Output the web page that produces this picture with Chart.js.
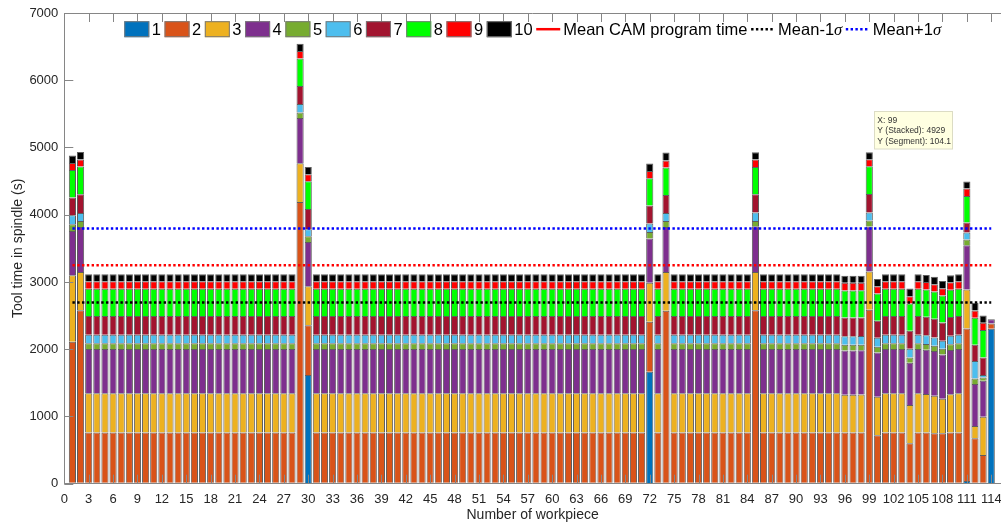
<!DOCTYPE html>
<html>
<head>
<meta charset="utf-8">
<script src="https://cdn.jsdelivr.net/npm/chart.js@4.4.0/dist/chart.umd.min.js"></script>
<style>
    html, body { margin: 0; padding: 0; background: #fff; }
    canvas { display: block; }
</style>
</head>
<body>
<canvas id="graficoFerramentas" width="1001" height="527"></canvas>
<script>

/*
* Dados: numero da peca e tempo (s) de cada ferramenta 1..10 por peca
*/
const workpiece = [
    1, 2, 3, 4, 5, 6, 7, 8, 9, 10,
    11, 12, 13, 14, 15, 16, 17, 18, 19, 20,
    21, 22, 23, 24, 25, 26, 27, 28, 29, 30,
    31, 32, 33, 34, 35, 36, 37, 38, 39, 40,
    41, 42, 43, 44, 45, 46, 47, 48, 49, 50,
    51, 52, 53, 54, 55, 56, 57, 58, 59, 60,
    61, 62, 63, 64, 65, 66, 67, 68, 69, 70,
    71, 72, 73, 74, 75, 76, 77, 78, 79, 80,
    81, 82, 83, 84, 85, 86, 87, 88, 89, 90,
    91, 92, 93, 94, 95, 96, 97, 98, 99, 100,
    101, 102, 103, 104, 105, 106, 107, 108, 109, 110,
    111, 112, 113, 114
]

const tool1 = [
    15, 15, 15, 15, 15, 15, 15, 15, 15, 15,
    15, 15, 15, 15, 15, 15, 15, 15, 15, 15,
    15, 15, 15, 15, 15, 15, 15, 15, 15, 1615,
    15, 15, 15, 15, 15, 15, 15, 15, 15, 15,
    15, 15, 15, 15, 15, 15, 15, 15, 15, 15,
    15, 15, 15, 15, 15, 15, 15, 15, 15, 15,
    15, 15, 15, 15, 15, 15, 15, 15, 15, 15,
    15, 1664, 15, 15, 15, 15, 15, 15, 15, 15,
    15, 15, 15, 15, 15, 15, 15, 15, 15, 15,
    15, 15, 15, 15, 15, 15, 15, 15, 15, 15,
    15, 15, 15, 15, 15, 15, 15, 15, 15, 15,
    40, 15, 15, 2303
]
const tool2 = [
    2095, 2566, 745, 745, 745, 745, 745, 745, 745, 745,
    745, 745, 745, 745, 745, 745, 745, 745, 745, 745,
    745, 745, 745, 745, 745, 745, 745, 745, 4175, 743,
    745, 745, 745, 745, 745, 745, 745, 745, 745, 745,
    745, 745, 745, 745, 745, 745, 745, 745, 745, 745,
    745, 745, 745, 745, 745, 745, 745, 745, 745, 745,
    745, 745, 745, 745, 745, 745, 745, 745, 745, 745,
    745, 743, 745, 2556, 745, 745, 745, 745, 745, 745,
    745, 745, 745, 745, 2566, 745, 745, 745, 745, 745,
    745, 745, 745, 745, 745, 745, 745, 745, 2570.9, 704,
    745, 745, 745, 585, 745, 745, 734, 734, 745, 745,
    2269, 660, 411, 80
]
const tool3 = [
    991, 569, 585, 585, 585, 585, 585, 585, 585, 585,
    585, 585, 585, 585, 585, 585, 585, 585, 585, 585,
    585, 585, 585, 585, 585, 585, 585, 585, 575, 580,
    585, 585, 585, 585, 585, 585, 585, 585, 585, 585,
    585, 585, 585, 585, 585, 585, 585, 585, 585, 585,
    585, 585, 585, 585, 585, 585, 585, 585, 585, 585,
    585, 585, 585, 585, 585, 585, 585, 585, 585, 585,
    585, 580, 585, 579, 585, 585, 585, 585, 585, 585,
    585, 585, 585, 585, 569, 585, 585, 585, 585, 585,
    585, 585, 585, 585, 585, 562, 562, 565, 569, 574,
    585, 585, 585, 569, 585, 575, 559, 514, 570, 585,
    580, 182, 570, 0
]
const tool4 = [
    658, 669, 658, 658, 658, 658, 658, 658, 658, 658,
    658, 658, 658, 658, 658, 658, 658, 658, 658, 658,
    658, 658, 658, 658, 658, 658, 658, 658, 673, 658,
    658, 658, 658, 658, 658, 658, 658, 658, 658, 658,
    658, 658, 658, 658, 658, 658, 658, 658, 658, 658,
    658, 658, 658, 658, 658, 658, 658, 658, 658, 658,
    658, 658, 658, 658, 658, 658, 658, 658, 658, 658,
    658, 659, 658, 669, 658, 658, 658, 658, 658, 658,
    658, 658, 658, 658, 679, 658, 658, 658, 658, 658,
    658, 658, 658, 658, 658, 658, 658, 658, 669, 659,
    658, 658, 658, 629, 658, 658, 664, 660, 658, 658,
    658, 624, 534, 64
]
const tool5 = [
    100, 89, 85, 85, 85, 85, 85, 85, 85, 85,
    85, 85, 85, 85, 85, 85, 85, 85, 85, 85,
    85, 85, 85, 85, 85, 85, 85, 85, 81, 85,
    85, 85, 85, 85, 85, 85, 85, 85, 85, 85,
    85, 85, 85, 85, 85, 85, 85, 85, 85, 85,
    85, 85, 85, 85, 85, 85, 85, 85, 85, 85,
    85, 85, 85, 85, 85, 85, 85, 85, 85, 85,
    85, 98, 85, 89, 85, 85, 85, 85, 85, 85,
    85, 85, 85, 85, 79, 85, 85, 85, 85, 85,
    85, 85, 85, 85, 85, 85, 85, 85, 89, 84,
    85, 85, 85, 80, 85, 85, 79, 83, 85, 85,
    85, 85, 51, 0
]
const tool6 = [
    134, 119, 128, 128, 128, 128, 128, 128, 128, 128,
    128, 128, 128, 128, 128, 128, 128, 128, 128, 128,
    128, 128, 128, 128, 128, 128, 128, 128, 127, 104,
    128, 128, 128, 128, 128, 128, 128, 128, 128, 128,
    128, 128, 128, 128, 128, 128, 128, 128, 128, 128,
    128, 128, 128, 128, 128, 128, 128, 128, 128, 128,
    128, 128, 128, 128, 128, 128, 128, 128, 128, 128,
    128, 125, 128, 119, 128, 128, 128, 128, 128, 128,
    128, 128, 128, 128, 125, 128, 128, 128, 128, 128,
    128, 128, 128, 128, 128, 128, 128, 128, 119, 133,
    128, 128, 128, 128, 128, 128, 124, 119, 128, 128,
    104, 257, 34, 0
]
const tool7 = [
    263, 278, 277, 277, 277, 277, 277, 277, 277, 277,
    277, 277, 277, 277, 277, 277, 277, 277, 277, 277,
    277, 277, 277, 277, 277, 277, 277, 277, 268, 301,
    277, 277, 277, 277, 277, 277, 277, 277, 277, 277,
    277, 277, 277, 277, 277, 277, 277, 277, 277, 277,
    277, 277, 277, 277, 277, 277, 277, 277, 277, 277,
    277, 277, 277, 277, 277, 277, 277, 277, 277, 277,
    277, 268, 277, 267, 277, 277, 277, 277, 277, 277,
    277, 277, 277, 277, 272, 277, 277, 277, 277, 277,
    277, 277, 277, 277, 277, 277, 277, 277, 278, 253,
    277, 277, 277, 267, 277, 277, 277, 273, 277, 277,
    148, 243, 263, 0
]
const tool8 = [
    410, 411, 405, 405, 405, 405, 405, 405, 405, 405,
    405, 405, 405, 405, 405, 405, 405, 405, 405, 405,
    405, 405, 405, 405, 405, 405, 405, 405, 411, 412,
    405, 405, 405, 405, 405, 405, 405, 405, 405, 405,
    405, 405, 405, 405, 405, 405, 405, 405, 405, 405,
    405, 405, 405, 405, 405, 405, 405, 405, 405, 405,
    405, 405, 405, 405, 405, 405, 405, 405, 405, 405,
    405, 406, 405, 407, 405, 405, 405, 405, 405, 405,
    405, 405, 405, 405, 405, 405, 405, 405, 405, 405,
    405, 405, 405, 405, 405, 405, 405, 405, 411, 407,
    405, 405, 405, 407, 405, 405, 406, 401, 405, 405,
    395, 401, 406, 0
]
const tool9 = [
    104, 104, 112, 112, 112, 112, 112, 112, 112, 112,
    112, 112, 112, 112, 112, 112, 112, 112, 112, 112,
    112, 112, 112, 112, 112, 112, 112, 112, 109, 104,
    112, 112, 112, 112, 112, 112, 112, 112, 112, 112,
    112, 112, 112, 112, 112, 112, 112, 112, 112, 112,
    112, 112, 112, 112, 112, 112, 112, 112, 112, 112,
    112, 112, 112, 112, 112, 112, 112, 112, 112, 112,
    112, 108, 112, 106, 112, 112, 112, 112, 112, 112,
    112, 112, 112, 112, 110, 112, 112, 112, 112, 112,
    112, 112, 112, 112, 112, 112, 112, 112, 104, 109,
    112, 112, 112, 109, 112, 112, 109, 109, 112, 112,
    110, 110, 108, 0
]
const tool10 = [
    110, 113, 104, 104, 104, 104, 104, 104, 104, 104,
    104, 104, 104, 104, 104, 104, 104, 104, 104, 104,
    104, 104, 104, 104, 104, 104, 104, 104, 110, 108,
    104, 104, 104, 104, 104, 104, 104, 104, 104, 104,
    104, 104, 104, 104, 104, 104, 104, 104, 104, 104,
    104, 104, 104, 104, 104, 104, 104, 104, 104, 104,
    104, 104, 104, 104, 104, 104, 104, 104, 104, 104,
    104, 110, 104, 117, 104, 104, 104, 104, 104, 104,
    104, 104, 104, 104, 109, 104, 104, 104, 104, 104,
    104, 104, 104, 104, 104, 104, 104, 104, 104.1, 108,
    104, 104, 104, 114, 104, 104, 109, 108, 104, 104,
    106, 113, 108, 0
]

const toolSeries = [tool1, tool2, tool3, tool4, tool5, tool6, tool7, tool8, tool9, tool10]
const toolNames = ['1', '2', '3', '4', '5', '6', '7', '8', '9', '10']

// linhas de referencia (pecas 1 a 114)
const lineSpan = [1, 114]
const meanCam = [3247, 3247]
const meanMinus = [2693, 2693]
const meanPlus = [3797, 3797]

const yTicks = [0, 1000, 2000, 3000, 4000, 5000, 6000, 7000]

// data tip mostrado na peca 99
const tipWorkpiece = 99

/*
* Cores (padrao MATLAB)
*/
const toolColors = ['#0072BD', '#D95319', '#EDB120', '#7E2F8E', '#77AC30', '#4DBEEE', '#A2142F', '#00FF00', '#FF0000', '#000000']
const corEixo = '#868686'
const corTexto = '#262626'
const corBorda = '#5e5e5e'

Chart.defaults.font.family = '"Liberation Sans", Arial, Helvetica, sans-serif'
Chart.defaults.color = corTexto

const datasetsBarras = toolSeries.map((serie, k) => ({
    type: 'bar',
    label: toolNames[k],
    data: serie.map((v, i) => ({ x: workpiece[i], y: v })),
    backgroundColor: toolColors[k],
    borderColor: corBorda,
    borderWidth: { top: 1, left: 1, right: 1, bottom: 0 },
    borderSkipped: false,
    barPercentage: 0.88,
    categoryPercentage: 1,
    order: 1
}))

const linhaRef = (label, valores, cor, stack, legendDash) => ({
    type: 'line',
    label: label,
    data: lineSpan.map((x, i) => ({ x: x, y: valores[i] })),
    borderColor: cor,
    backgroundColor: cor,
    borderWidth: 2.5,
    borderDash: [2.4, 2.4],
    pointRadius: 0,
    fill: false,
    stack: stack,
    order: 0,
    legendDash: legendDash
})

const datasetsLinhas = [
    linhaRef('Mean CAM program time', meanCam, '#FF0000', 'm0', []),
    linhaRef('Mean-1σ', meanMinus, '#000000', 'm1', [2.4, 2.4]),
    linhaRef('Mean+1σ', meanPlus, '#0000FF', 'm2', [2.4, 2.4])
]

/*
* Caixa do eixo com ticks para dentro (estilo MATLAB)
*/
const eixosMatlab = {
    id: 'eixosMatlab',
    afterDatasetsDraw(chart) {
        const { ctx, chartArea: a, scales: { x, y } } = chart
        const tam = 9
        ctx.save()
        ctx.strokeStyle = corEixo
        ctx.lineWidth = 1
        ctx.beginPath()
        ctx.moveTo(Math.round(a.left) + 0.5, a.top)
        ctx.lineTo(Math.round(a.left) + 0.5, a.bottom)
        ctx.moveTo(a.left, Math.round(a.bottom) - 0.5)
        ctx.lineTo(a.right, Math.round(a.bottom) - 0.5)
        ctx.moveTo(a.left, Math.round(a.top) + 0.5)
        ctx.lineTo(a.right, Math.round(a.top) + 0.5)
        x.ticks.forEach((t) => {
            const px = Math.round(x.getPixelForValue(t.value)) + 0.5
            ctx.moveTo(px, a.bottom)
            ctx.lineTo(px, a.bottom - tam)
            ctx.moveTo(px, a.top)
            ctx.lineTo(px, a.top + tam)
        })
        y.ticks.forEach((t) => {
            const py = Math.round(y.getPixelForValue(t.value)) + 0.5
            ctx.moveTo(a.left, py)
            ctx.lineTo(a.left + tam, py)
        })
        ctx.stroke()
        ctx.restore()
    }
}

/*
* Legenda horizontal dentro da area do grafico
*/
const legendaInterna = {
    id: 'legendaInterna',
    afterDraw(chart) {
        const { ctx, chartArea: a } = chart
        const fonte = '16.5px "Liberation Sans", Arial, sans-serif'
        const fonteSigma = 'italic 16.5px "Liberation Serif", "Times New Roman", serif'
        const yc = 29.2

        const larguraTexto = (txt) => {
            ctx.font = fonte
            if (txt.endsWith('σ')) {
                const w = ctx.measureText(txt.slice(0, -1)).width
                ctx.font = fonteSigma
                return w + ctx.measureText('σ').width
            }
            return ctx.measureText(txt).width
        }

        ctx.save()
        const itens = chart.data.datasets.map((ds) => {
            const amostra = ds.type === 'line' ? 24 : 25
            const gap = ds.type === 'line' ? 3 : 2.5
            return { ds, amostra, gap, largura: amostra + gap + larguraTexto(ds.label) }
        })
        const espaco = 3.6
        const total = itens.reduce((s, it) => s + it.largura, 0) + espaco * (itens.length - 1)
        let x = (a.left + a.right) / 2 - total / 2

        itens.forEach((it) => {
            const ds = it.ds
            if (ds.type === 'line') {
                ctx.strokeStyle = ds.borderColor
                ctx.lineWidth = 2.5
                ctx.setLineDash(ds.legendDash)
                ctx.beginPath()
                ctx.moveTo(x, yc)
                ctx.lineTo(x + it.amostra, yc)
                ctx.stroke()
                ctx.setLineDash([])
            } else {
                ctx.fillStyle = ds.backgroundColor
                ctx.fillRect(x, yc - 8, it.amostra, 16)
                ctx.strokeStyle = '#7a7a7a'
                ctx.lineWidth = 1
                ctx.strokeRect(x + 0.5, yc - 7.5, it.amostra - 1, 15)
            }
            let tx = x + it.amostra + it.gap
            ctx.fillStyle = '#000'
            ctx.textBaseline = 'middle'
            ctx.textAlign = 'left'
            ctx.font = fonte
            if (ds.label.endsWith('σ')) {
                const base = ds.label.slice(0, -1)
                ctx.fillText(base, tx, yc + 1)
                tx += ctx.measureText(base).width
                ctx.font = fonteSigma
                ctx.fillText('σ', tx, yc + 1)
            } else {
                ctx.fillText(ds.label, tx, yc + 1)
            }
            x += it.largura + espaco
        })
        ctx.restore()
    }
}

/*
* Data tip da peca selecionada
*/
const dicaDados = {
    id: 'dicaDados',
    afterDraw(chart) {
        const { ctx, scales: { x, y } } = chart
        const i = workpiece.indexOf(tipWorkpiece)
        const empilhado = toolSeries.reduce((s, serie) => s + serie[i], 0)
        const segmento = tool10[i]
        const px = x.getPixelForValue(tipWorkpiece)
        const py = y.getPixelForValue(empilhado)

        const linhas = [
            'X: ' + tipWorkpiece,
            'Y (Stacked): ' + Math.round(empilhado),
            'Y (Segment): ' + segmento
        ]
        const bx = px + 5
        const by = py - 41
        ctx.save()
        ctx.fillStyle = '#ffffe1'
        ctx.fillRect(bx, by, 78, 37.5)
        ctx.strokeStyle = '#dcdcc4'
        ctx.lineWidth = 1
        ctx.strokeRect(Math.round(bx) + 0.5, Math.round(by) + 0.5, 78, 37.5)
        ctx.fillStyle = '#333'
        ctx.font = '8.5px "Liberation Sans", Arial, sans-serif'
        ctx.textBaseline = 'middle'
        linhas.forEach((l, k) => ctx.fillText(l, bx + 3, by + 9 + k * 10.8))
        ctx.restore()
    }
}

const ctx = document.getElementById('graficoFerramentas').getContext('2d')

const grafico = new Chart(ctx, {
    type: 'bar',
    data: {
        datasets: [...datasetsBarras, ...datasetsLinhas]
    },
    options: {
        responsive: false,
        animation: false,
        events: [],
        layout: { padding: { top: 13, left: 0, right: 0, bottom: 0 } },
        plugins: {
            legend: { display: false },
            tooltip: { enabled: false },
            title: { display: false }
        },
        scales: {
            x: {
                type: 'linear',
                stacked: true,
                offset: false,
                min: 0,
                max: 115.2,
                grid: { display: false, drawTicks: false },
                border: { display: false },
                ticks: {
                    stepSize: 3,
                    includeBounds: false,
                    autoSkip: false,
                    maxRotation: 0,
                    minRotation: 0,
                    padding: 8,
                    color: corTexto,
                    font: { size: 13 },
                    callback: (v) => String(v)
                },
                title: {
                    display: true,
                    text: 'Number of workpiece',
                    color: corTexto,
                    font: { size: 14 },
                    padding: { top: 0, bottom: 3 }
                },
                afterFit: (scale) => {
                    scale.height = 43.3
                    scale.paddingLeft = 0
                    scale.paddingRight = 0
                }
            },
            y: {
                stacked: true,
                min: 0,
                max: 7000,
                grid: { display: false, drawTicks: false },
                border: { display: false },
                afterBuildTicks: (scale) => {
                    scale.ticks = yTicks.map((v) => ({ value: v }))
                },
                ticks: {
                    padding: 6,
                    color: corTexto,
                    font: { size: 13 },
                    callback: (v) => String(v)
                },
                title: {
                    display: true,
                    text: 'Tool time in spindle (s)',
                    color: corTexto,
                    font: { size: 14 },
                    padding: { top: 10, bottom: 0 }
                },
                afterFit: (scale) => {
                    scale.width = 64.3
                    scale.paddingTop = 0
                    scale.paddingBottom = 0
                }
            }
        }
    },
    plugins: [eixosMatlab, legendaInterna, dicaDados]
})

</script>
</body>
</html>
